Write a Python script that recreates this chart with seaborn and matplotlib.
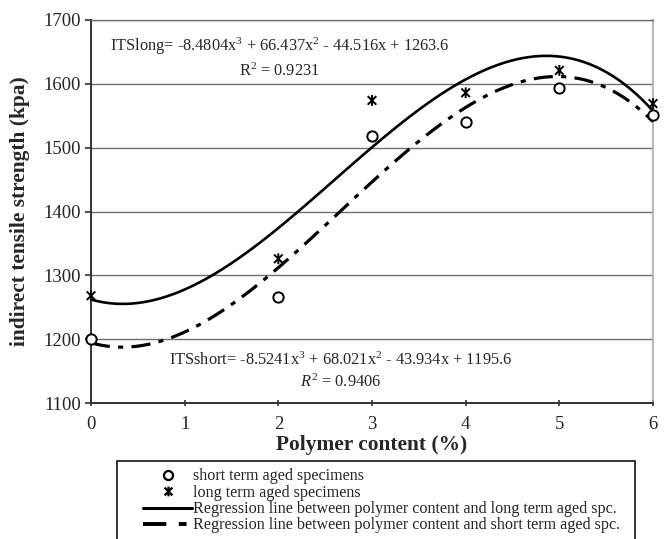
import numpy as np
import pandas as pd
import matplotlib
matplotlib.use("Agg")
import matplotlib.pyplot as plt
import seaborn as sns
from matplotlib.path import Path
from matplotlib.lines import Line2D
from matplotlib.patches import Rectangle

# ---- data ----
polymer = [0, 2, 3, 4, 5, 6]
its_short = [1200, 1266, 1518, 1540, 1593, 1551]
its_long = [1268, 1326, 1574, 1586, 1621, 1569]

yticks = [1100, 1200, 1300, 1400, 1500, 1600, 1700]
xticks = [0, 1, 2, 3, 4, 5, 6]

eq_long = "ITSlong= -8.4804x$^{3}$ + 66.437x$^{2}$ - 44.516x + 1263.6"
r2_long = "R$^{2}$ = 0.9231"
eq_short = "ITSshort= -8.5241x$^{3}$ + 68.021x$^{2}$ - 43.934x + 1195.6"
r2_short = "$R^{2}$ = 0.9406"

legend_labels = [
    "short term aged specimens",
    "long term aged specimens",
    "Regression line between polymer content and long term aged spc.",
    "Regression line between polymer content and short term aged spc.",
]

df = pd.DataFrame({"polymer": polymer, "short": its_short, "long": its_long})

sns.set_theme(style="white")
plt.rcParams["font.family"] = ["Liberation Serif", "DejaVu Serif"]
plt.rcParams["mathtext.fontset"] = "custom"
plt.rcParams["mathtext.rm"] = "Liberation Serif"
plt.rcParams["mathtext.it"] = "Liberation Serif:italic"
plt.rcParams["mathtext.bf"] = "Liberation Serif:bold"

fig = plt.figure(figsize=(6.69, 5.39), dpi=100)
ax = fig.add_axes([91 / 669, 1 - 403 / 539, 562 / 669, 383 / 539])

# asterisk marker: x plus vertical bar
ast = Path(
    [(-1, -1), (1, 1), (-1, 1), (1, -1), (0, -1.25), (0, 1.25)],
    [Path.MOVETO, Path.LINETO, Path.MOVETO, Path.LINETO, Path.MOVETO, Path.LINETO],
)

dash_short = (0, (6.0, 2.6, 1.6, 2.6))

# regression lines (cubic, through seaborn)
sns.regplot(data=df, x="polymer", y="long", order=3, ci=None, scatter=False,
            ax=ax, line_kws=dict(color="black", lw=1.9, zorder=3))
sns.regplot(data=df, x="polymer", y="short", order=3, ci=None, scatter=False,
            ax=ax, line_kws=dict(color="black", lw=2.3, ls=dash_short, zorder=3))

# points
sns.scatterplot(data=df, x="polymer", y="short", ax=ax, marker="o", s=55,
                facecolor="white", edgecolor="black", linewidth=1.4, zorder=4,
                clip_on=False)
sns.scatterplot(data=df, x="polymer", y="long", ax=ax, marker=ast, s=60,
                facecolor="none", edgecolor="black", linewidth=1.4, zorder=4,
                clip_on=False)

ax.set_xlim(xticks[0], xticks[-1])
ax.set_ylim(yticks[0], yticks[-1])
ax.set_xticks(xticks)
ax.set_yticks(yticks)
ax.yaxis.grid(True, color="#707070", lw=1.0)
ax.set_axisbelow(True)

for side in ["left", "bottom"]:
    ax.spines[side].set_color("#333333")
    ax.spines[side].set_linewidth(1.4)
ax.spines["top"].set_color("#707070")
ax.spines["top"].set_linewidth(1.0)
ax.spines["right"].set_color("#aaaaaa")
ax.spines["right"].set_linewidth(1.2)

ax.tick_params(axis="y", direction="out", length=4, width=1.2, color="#333333",
               labelsize=13.5, pad=3, left=True)
ax.tick_params(axis="x", direction="inout", length=5, width=1.2, color="#333333",
               labelsize=13.5, pad=7, bottom=True)

ax.set_xlabel("Polymer content (%)", fontsize=15.4, fontweight="bold", labelpad=1)
ax.set_ylabel("indirect tensile strength (kpa)", fontsize=15.4, fontweight="bold", labelpad=10)

ax.text(0.336, 0.932, eq_long, transform=ax.transAxes, ha="center", va="center", fontsize=11.8)
ax.text(0.336, 0.867, r2_long, transform=ax.transAxes, ha="center", va="center", fontsize=11.8)
ax.text(0.445, 0.112, eq_short, transform=ax.transAxes, ha="center", va="center", fontsize=11.8)
ax.text(0.445, 0.055, r2_short, transform=ax.transAxes, ha="center", va="center", fontsize=11.8)

# legend (box drawn separately, runs off the bottom like the reference)
handles = [
    Line2D([], [], ls="none", marker="o", ms=6.5, mfc="white", mec="black", mew=1.6),
    Line2D([], [], ls="none", marker=ast, ms=7, mfc="none", mec="black", mew=1.6),
    Line2D([], [], color="black", lw=2.2),
    Line2D([], [], color="black", lw=2.8, ls=(0, (6.0, 3.2, 2.0, 3.2))),
]
fig.legend(handles, legend_labels, loc="upper left",
           bbox_to_anchor=(143 / 669, 1 - 468.5 / 539), frameon=False,
           fontsize=11.6, handlelength=3.05, handletextpad=0.05,
           labelspacing=0.02, borderpad=0, borderaxespad=0)
fig.patches.append(Rectangle((117 / 669, -0.05), (635 - 117) / 669, 0.05 + (539 - 461) / 539,
                             transform=fig.transFigure, fill=False, edgecolor="black",
                             lw=1.1, figure=fig))

fig.savefig("out.png", dpi=100)
